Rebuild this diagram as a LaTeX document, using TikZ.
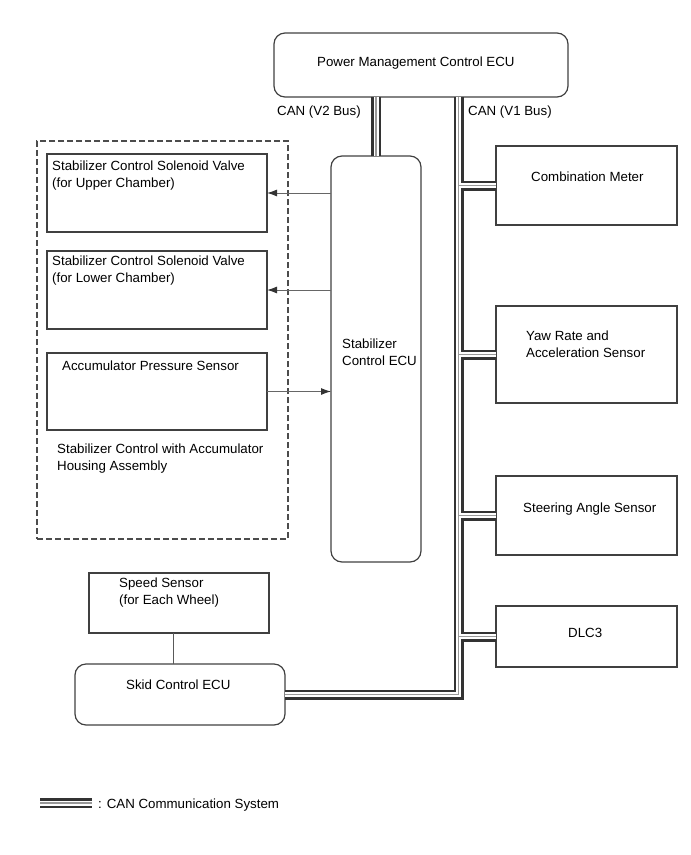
\documentclass[tikz,border=0pt]{standalone}
\usepackage{fontspec}
\setmainfont{Liberation Sans}
\usetikzlibrary{positioning}
\usetikzlibrary{arrows.meta}

\begin{document}
\begin{tikzpicture}[x = 1pt, y = -1pt,
                    font = \fontsize{13.3}{17}\selectfont,
                    ecuRectangle/.style = {draw = black!75, line width = 1.2pt, rectangle, rounded corners = 11pt, outer sep = 0pt, anchor = north west},
                    partRectangle/.style = {draw = black!75, line width = 1.2pt, rectangle, outer sep = 0pt},
                    housingRectangle/.style = {draw = black!70, line width = 1.1pt, rectangle, outer sep = 0pt, dash pattern = on 6pt off 3pt},
                    boxText/.style = {inner sep = 0pt, anchor = base west, align = left},
                    signalArrow/.style = {draw = black!60, line width = 1pt, -{Latex[length = 10pt, width = 7pt, color = black!80]}}]
            \useasboundingbox (0,0) rectangle (691,855);

            \node [ecuRectangle, minimum width = 294pt, minimum height = 64pt]  (pmEcu)   at (274,33)  {};
            \node [ecuRectangle, minimum width = 90pt,  minimum height = 406pt] (stabEcu) at (331,156) {};
            \node [ecuRectangle, minimum width = 210pt, minimum height = 61pt]  (skidEcu) at (75,664)  {};

            \node [partRectangle, minimum width = 181pt, minimum height = 79pt, anchor = north west] (combMeter) at (496,146) {};
            \node [partRectangle, minimum width = 181pt, minimum height = 97pt, below = 81pt of combMeter]   (yawSensor)   {};
            \node [partRectangle, minimum width = 181pt, minimum height = 79pt, below = 73pt of yawSensor]   (steerSensor) {};
            \node [partRectangle, minimum width = 181pt, minimum height = 61pt, below = 51pt of steerSensor] (dlcThree)    {};

            \node [housingRectangle, minimum width = 251pt, minimum height = 398pt, anchor = north west] (housing) at (37,141) {};
            \node [partRectangle, minimum width = 220pt, minimum height = 78pt, anchor = north west] (valveUpper) at (47,154) {};
            \node [partRectangle, minimum width = 220pt, minimum height = 78pt, below = 19pt of valveUpper] (valveLower) {};
            \node [partRectangle, minimum width = 220pt, minimum height = 77pt, below = 24pt of valveLower] (accSensor)  {};

            \node [partRectangle, minimum width = 180pt, minimum height = 60pt, above = 31pt of skidEcu, xshift = -1pt] (speedSensor) {};

            \node [boxText] (pmText)         at (317,66)  {Power Management Control ECU};
            \node [boxText] (canTwoText)     at (277,115) {CAN (V2 Bus)};
            \node [boxText] (canOneText)     at (468,115) {CAN (V1 Bus)};
            \node [boxText] (stabText)       at (342,365) {Stabilizer\\Control ECU};
            \node [boxText] (combText)       at (531,181) {Combination Meter};
            \node [boxText] (yawText)        at (526,357) {Yaw Rate and\\Acceleration Sensor};
            \node [boxText] (steerText)      at (523,512) {Steering Angle Sensor};
            \node [boxText] (dlcText)        at (568,637) {DLC3};
            \node [boxText] (valveUpperText) at (52,187)  {Stabilizer Control Solenoid Valve\\(for Upper Chamber)};
            \node [boxText] (valveLowerText) at (52,282)  {Stabilizer Control Solenoid Valve\\(for Lower Chamber)};
            \node [boxText] (accText)        at (62,370)  {Accumulator Pressure Sensor};
            \node [boxText] (housingText)    at (57,470)  {Stabilizer Control with Accumulator\\Housing Assembly};
            \node [boxText] (speedText)      at (119,604) {Speed Sensor\\(for Each Wheel)};
            \node [boxText] (skidText)       at (126,689) {Skid Control ECU};
            \node [boxText] (legendText)     at (98,808)  {: CAN Communication System};

            \draw [signalArrow] (stabEcu.west |- valveUpper.east) -- (valveUpper.east);
            \draw [signalArrow] (stabEcu.west |- valveLower.east) -- (valveLower.east);
            \draw [signalArrow] (accSensor.east) -- (stabEcu.west |- accSensor.east);
            \draw [draw = black!65, line width = 1pt] ([xshift = -6pt]speedSensor.south) -- ([xshift = -6pt]speedSensor.south |- skidEcu.north);

            \coordinate (busTop)      at (458.5,97);
            \coordinate (legendStart) at (40,803);
            \coordinate (legendEnd)   at (92,803);

            \foreach \busWidth/\busColor in {10pt/black!80, 5pt/white, 1.5pt/black!40}
              {
               \draw [line width = \busWidth, color = \busColor] (pmEcu.south -| stabEcu.north) -- (stabEcu.north);
               \draw [line width = \busWidth, color = \busColor] (busTop) |- (skidEcu.east);
               \foreach \busNode in {combMeter, yawSensor, steerSensor, dlcThree}
                 \draw [line width = \busWidth, color = \busColor] (busTop |- \busNode.west) -- (\busNode.west);
               \draw [line width = \busWidth, color = \busColor] (legendStart) -- (legendEnd);
              }
        \end{tikzpicture}
\end{document}
